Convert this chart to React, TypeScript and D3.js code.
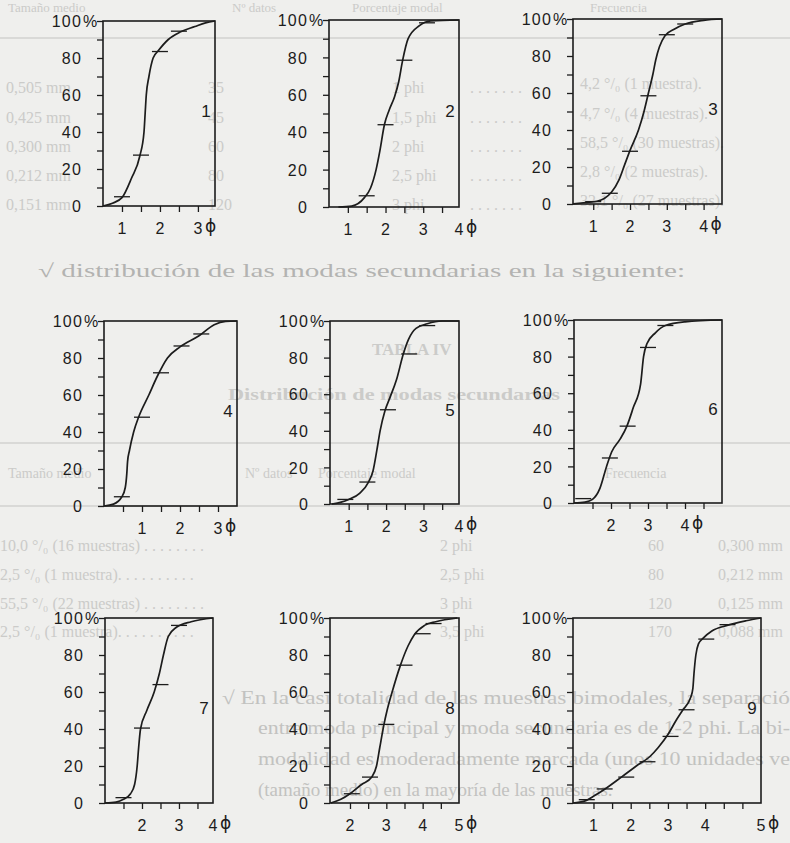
import React, { useEffect, useRef } from 'react';
import * as d3 from 'd3';

// cumulative grain size curves: [phi, cumulative %]
const curve1 = [[0.5, 0], [0.75, 1.5], [1.0, 4.5], [1.25, 15], [1.47, 27], [1.58, 40], [1.61, 50], [1.64, 60], [1.71, 70], [1.82, 80], [1.96, 84], [2.22, 90], [2.53, 94], [2.92, 97], [3.2, 99], [3.45, 100]];
const marks1 = [[1.0, 5], [1.5, 27.5], [2.0, 83.5], [2.5, 94.5]];

const curve2 = [[0.75, 0], [1.1, 0.5], [1.44, 5], [1.6, 10], [1.75, 20], [1.85, 30], [1.97, 44], [2.1, 52], [2.24, 59], [2.35, 67], [2.45, 78], [2.6, 90], [2.9, 97], [3.2, 99.5], [3.95, 100]];
const marks2 = [[1.5, 6], [2.0, 44], [2.5, 78.5], [3.1, 98.5]];

const curve3 = [[0.45, 0], [0.8, 0.8], [1.1, 1.5], [1.3, 3], [1.5, 6.5], [1.7, 13], [1.85, 21], [2.0, 29], [2.23, 40], [2.38, 50], [2.5, 60], [2.62, 70], [2.7, 78], [2.8, 85], [2.95, 91], [3.2, 94.5], [3.5, 97.3], [4.0, 99.3], [4.5, 100]];
const marks3 = [[1.0, 1.3], [1.45, 5.8], [2.0, 28.5], [2.5, 58.5], [3.0, 91.5], [3.5, 97.3]];

const curve4 = [[0, 0], [0.25, 1], [0.47, 5], [0.56, 10], [0.6, 17.5], [0.62, 24], [0.67, 30], [0.78, 40], [0.91, 48], [1.18, 60], [1.4, 70], [1.67, 80], [2.0, 86], [2.5, 92], [2.9, 98], [3.2, 99.8], [3.5, 100]];
const marks4 = [[0.47, 5], [1.0, 48], [1.5, 72], [2.04, 86.5], [2.56, 93]];

const curve5 = [[0.55, 0], [0.8, 1], [1.0, 2.5], [1.3, 6], [1.53, 12], [1.65, 18], [1.75, 29], [1.84, 40], [1.97, 51], [2.1, 58], [2.28, 68], [2.46, 82], [2.6, 90], [2.8, 96], [3.1, 98.5], [3.5, 100], [3.95, 100]];
const marks5 = [[0.91, 2.5], [1.5, 12], [2.05, 51.5], [2.62, 82], [3.1, 97.5]];

const curve6 = [[1.0, 0], [1.3, 0.5], [1.5, 2], [1.7, 8], [1.88, 20], [2.02, 28], [2.25, 35], [2.43, 42], [2.6, 52], [2.8, 65], [2.88, 80], [2.97, 87], [3.2, 93], [3.47, 97], [4.0, 99], [5.0, 100]];
const marks6 = [[1.25, 2.4], [1.97, 24.6], [2.45, 42], [3.0, 85], [3.47, 97]];

const curve7 = [[1.0, 0], [1.3, 0.5], [1.5, 2], [1.69, 5], [1.8, 10], [1.87, 20], [1.91, 30], [1.96, 40], [2.13, 50], [2.33, 60], [2.47, 70], [2.58, 80], [2.71, 90], [2.93, 95], [3.33, 98], [3.92, 100]];
const marks7 = [[1.5, 2.9], [2.0, 40.5], [2.5, 64], [3.0, 96]];

const curve8 = [[1.47, 0], [1.75, 2], [2.0, 5], [2.32, 10], [2.6, 14], [2.73, 20], [2.82, 30], [2.93, 42], [3.02, 50], [3.16, 60], [3.38, 74], [3.6, 85], [3.77, 91], [4.05, 96], [4.36, 98], [4.95, 100]];
const marks8 = [[2.05, 5], [2.55, 14], [3.0, 42.5], [3.5, 74.5], [4.0, 91.5], [4.3, 97]];

const curve9 = [[0.45, 0], [0.76, 1], [1.03, 4], [1.34, 8], [1.75, 14], [2.15, 20], [2.51, 25], [2.74, 30], [3.0, 37], [3.23, 45], [3.39, 50], [3.61, 57], [3.67, 62], [3.7, 70], [3.75, 80], [3.82, 86], [3.94, 89], [4.18, 93], [4.59, 96], [5.1, 98.5], [5.5, 100]];
const marks9 = [[0.82, 1.8], [1.3, 7.6], [1.88, 14], [2.45, 22.3], [3.07, 36], [3.5, 50.4], [4.03, 88.6], [4.6, 96.4]];

const yTicks = d3.range(0, 101, 10);
const yLabelValues = [0, 20, 40, 60, 80, 100];

// faint text showing through from the other side of the page
const tableHead = ['Tamaño medio', 'Nº datos', 'Porcentaje modal', 'Frecuencia'];
const sizes1 = ['0,505 mm', '0,425 mm', '0,300 mm', '0,212 mm', '0,151 mm'];
const counts1 = ['35', '45', '60', '80', '120'];
const phis1 = ['1 phi', '1,5 phi', '2 phi', '2,5 phi', '3 phi'];
const freqs1 = ['4,2 °/₀ (1 muestra).', '4,7 °/₀ (4 muestras).', '58,5 °/₀ (30 muestras).', '2,8 °/₀ (2 muestras).', '32,1 °/₀ (27 muestras).'];
const freqs2 = ['10,0 °/₀ (16 muestras) . . . . . . . .', '2,5 °/₀ (1 muestra). . . . . . . . . .', '55,5 °/₀ (22 muestras) . . . . . . . .', '2,5 °/₀ (1 muestra). . . . . . . . . .'];
const phis2 = ['2 phi', '2,5 phi', '3 phi', '3,5 phi'];
const counts2 = ['60', '80', '120', '170'];
const sizes2 = ['0,300 mm', '0,212 mm', '0,125 mm', '0,088 mm'];
const paragraph = [
  '√ En la casi totalidad de las muestras bimodales, la separació',
  'entre moda principal y moda secundaria es de 1-2 phi. La bi-',
  'modalidad es moderadamente marcada (unos 10 unidades ve',
  '(tamaño medio) en la mayoría de las muestras.',
];

const ink = '#1c1c1c';
const ghost = '#cbcbc9';
const sans = '"Liberation Sans", Arial, sans-serif';
const serif = '"Liberation Serif", "DejaVu Serif", serif';

const panels = [
  { id: '1', curve: curve1, marks: marks1, domain: [0.5, 3.45], ticks: [1, 1.5, 2, 2.5, 3], labels: [[1, '1'], [2, '2'], [3, '3']], box: [103, 21, 215, 206] },
  { id: '2', curve: curve2, marks: marks2, domain: [0.5, 3.95], ticks: [1, 1.5, 2, 2.5, 3, 3.5], labels: [[1, '1'], [2, '2'], [3, '3'], [3.95, '4']], box: [329, 20, 459, 207] },
  { id: '3', curve: curve3, marks: marks3, domain: [0.45, 4.5], ticks: [1, 1.5, 2, 2.5, 3, 3.5, 4], labels: [[1, '1'], [2, '2'], [3, '3'], [4, '4']], box: [573, 19, 722, 204] },
  { id: '4', curve: curve4, marks: marks4, domain: [0, 3.5], ticks: [0.5, 1, 1.5, 2, 2.5, 3], labels: [[1, '1'], [2, '2'], [3, '3']], box: [104, 321, 237, 506] },
  { id: '5', curve: curve5, marks: marks5, domain: [0.5, 3.95], ticks: [1, 1.5, 2, 2.5, 3, 3.5], labels: [[1, '1'], [2, '2'], [3, '3'], [3.95, '4']], box: [330, 321, 459, 504] },
  { id: '6', curve: curve6, marks: marks6, domain: [1, 5], ticks: [1.5, 2, 2.5, 3, 3.5, 4, 4.5], labels: [[2, '2'], [3, '3'], [4, '4']], box: [574, 320, 722, 503] },
  { id: '7', curve: curve7, marks: marks7, domain: [1, 3.92], ticks: [1.5, 2, 2.5, 3, 3.5], labels: [[2, '2'], [3, '3'], [3.92, '4']], box: [105, 618, 213, 803] },
  { id: '8', curve: curve8, marks: marks8, domain: [1.45, 5], ticks: [2, 2.5, 3, 3.5, 4, 4.5], labels: [[2, '2'], [3, '3'], [4, '4'], [5, '5']], box: [330, 618, 459, 803] },
  { id: '9', curve: curve9, marks: marks9, domain: [0.45, 5.5], ticks: [1, 1.5, 2, 2.5, 3, 3.5, 4, 4.5, 5], labels: [[1, '1'], [2, '2'], [3, '3'], [4, '4'], [5.5, '5']], box: [573, 618, 761, 803] },
];

function drawBackground(svg) {
  const bg = svg.append('g').attr('font-family', serif).attr('fill', ghost);
  const rule = (y) => bg.append('line').attr('x1', 0).attr('x2', 790).attr('y1', y).attr('y2', y).attr('stroke', '#d9d9d7').attr('stroke-width', 2);
  rule(38);
  rule(443);
  rule(506);

  const headTopX = [8, 232, 352, 590];
  tableHead.forEach((t, i) => bg.append('text').attr('x', headTopX[i]).attr('y', 12).attr('font-size', 13).text(t));
  const headMidX = [8, 245, 318, 605];
  tableHead.forEach((t, i) => bg.append('text').attr('x', headMidX[i]).attr('y', 478).attr('font-size', 14).text(t));

  const rows1 = [93, 123, 152, 181, 210];
  rows1.forEach((y, i) => {
    bg.append('text').attr('x', 6).attr('y', y).attr('font-size', 16).text(sizes1[i]);
    bg.append('text').attr('x', 208).attr('y', y).attr('font-size', 16).text(counts1[i]);
    bg.append('text').attr('x', 392).attr('y', y).attr('font-size', 16).text(phis1[i]);
    bg.append('text').attr('x', 470).attr('y', y).attr('font-size', 16).text('. . . . . . .');
    bg.append('text').attr('x', 580).attr('y', y - 4).attr('font-size', 16).text(freqs1[i]);
  });

  const rows2 = [551, 580, 609, 637];
  rows2.forEach((y, i) => {
    bg.append('text').attr('x', 0).attr('y', y).attr('font-size', 16).text(freqs2[i]);
    bg.append('text').attr('x', 440).attr('y', y).attr('font-size', 16).text(phis2[i]);
    bg.append('text').attr('x', 648).attr('y', y).attr('font-size', 16).text(counts2[i]);
    bg.append('text').attr('x', 718).attr('y', y).attr('font-size', 16).text(sizes2[i]);
  });

  bg.append('text').attr('x', 372).attr('y', 355).attr('font-size', 17).attr('font-weight', 'bold').text('TABLA IV');
  bg.append('text').attr('x', 228).attr('y', 400).attr('font-size', 16).attr('font-weight', 'bold')
    .attr('textLength', 332).attr('lengthAdjust', 'spacingAndGlyphs').text('Distribución de modas secundarias');

  bg.append('text').attr('x', 38).attr('y', 277).attr('font-size', 19).attr('fill', '#b3b3b1')
    .attr('textLength', 647).attr('lengthAdjust', 'spacingAndGlyphs')
    .text('√ distribución de las modas secundarias en la siguiente:');

  const paraX = [222, 258, 258, 258];
  const paraW = [568, 532, 532, 0];
  [704, 734, 765, 796].forEach((y, i) => {
    const t = bg.append('text').attr('x', paraX[i]).attr('y', y).attr('font-size', 19).attr('fill', '#c2c2c0')
      .text(paragraph[i]);
    if (paraW[i]) t.attr('textLength', paraW[i]).attr('lengthAdjust', 'spacingAndGlyphs');
  });
}

function drawPanel(svg, p) {
  const [x0, y0, x1, y1] = p.box;
  const x = d3.scaleLinear().domain(p.domain).range([x0, x1]);
  const y = d3.scaleLinear().domain([0, 100]).range([y1, y0]);
  const g = svg.append('g');

  // left axis: ticks every 10 %, labels every 20
  const yAxis = g.append('g')
    .attr('transform', `translate(${x0},0)`)
    .call(d3.axisLeft(y).tickValues(yTicks).tickSize(6).tickPadding(15)
      .tickFormat(d => (yLabelValues.includes(d) ? String(d) : '')));
  yAxis.select('.domain').remove();
  yAxis.selectAll('line').attr('stroke', ink).attr('stroke-width', 1.3);
  yAxis.selectAll('text')
    .attr('fill', ink)
    .attr('font-family', sans)
    .attr('font-size', 16)
    .attr('letter-spacing', 1.2)
    .attr('dy', '0.36em');
  g.append('text')
    .attr('x', x0 - 20)
    .attr('y', y(100))
    .attr('dy', '0.36em')
    .attr('fill', ink)
    .attr('font-family', sans)
    .attr('font-size', 16)
    .text('%');

  // bottom axis: half-phi ticks hanging below the frame
  const xAxis = g.append('g')
    .attr('transform', `translate(0,${y1})`)
    .call(d3.axisBottom(x).tickValues(p.ticks).tickSize(6).tickFormat(''));
  xAxis.select('.domain').remove();
  xAxis.selectAll('line').attr('stroke', ink).attr('stroke-width', 1.3);

  p.labels.forEach(([v, t]) => {
    g.append('text')
      .attr('x', x(v))
      .attr('y', y1 + 28)
      .attr('text-anchor', 'middle')
      .attr('fill', ink)
      .attr('font-family', sans)
      .attr('font-size', 16)
      .text(t);
  });
  const last = p.labels[p.labels.length - 1];
  g.append('text')
    .attr('x', x(last[0]) + 7)
    .attr('y', y1 + 26)
    .attr('fill', ink)
    .attr('font-family', '"DejaVu Sans", sans-serif')
    .attr('font-size', 17)
    .text('ϕ');

  // frame
  g.append('rect')
    .attr('x', x0)
    .attr('y', y0)
    .attr('width', x1 - x0)
    .attr('height', y1 - y0)
    .attr('fill', 'none')
    .attr('stroke', ink)
    .attr('stroke-width', 1.6);

  // cumulative curve
  const line = d3.line()
    .x(d => x(d[0]))
    .y(d => y(d[1]))
    .curve(d3.curveMonotoneX);
  g.append('path')
    .datum(p.curve)
    .attr('d', line)
    .attr('fill', 'none')
    .attr('stroke', ink)
    .attr('stroke-width', 1.7);

  // percentile marks
  g.selectAll('.mark')
    .data(p.marks)
    .enter()
    .append('line')
    .attr('class', 'mark')
    .attr('x1', d => x(d[0]) - 8)
    .attr('x2', d => x(d[0]) + 8)
    .attr('y1', d => y(d[1]))
    .attr('y2', d => y(d[1]))
    .attr('stroke', ink)
    .attr('stroke-width', 1.3);

  // sample number
  g.append('text')
    .attr('x', x1 - 9)
    .attr('y', (y0 + y1) / 2 + 3)
    .attr('text-anchor', 'middle')
    .attr('fill', ink)
    .attr('font-family', sans)
    .attr('font-size', 17)
    .text(p.id);
}

export default function App() {
  const ref = useRef(null);

  useEffect(() => {
    const svg = d3.select(ref.current);
    svg.selectAll('*').remove();
    svg.append('rect').attr('width', 790).attr('height', 843).attr('fill', '#efefed');
    drawBackground(svg);
    panels.forEach(p => drawPanel(svg, p));
  }, []);

  return (
    <svg
      ref={ref}
      width={790}
      height={843}
      style={{ position: 'absolute', left: 0, top: 0, display: 'block' }}
    />
  );
}
